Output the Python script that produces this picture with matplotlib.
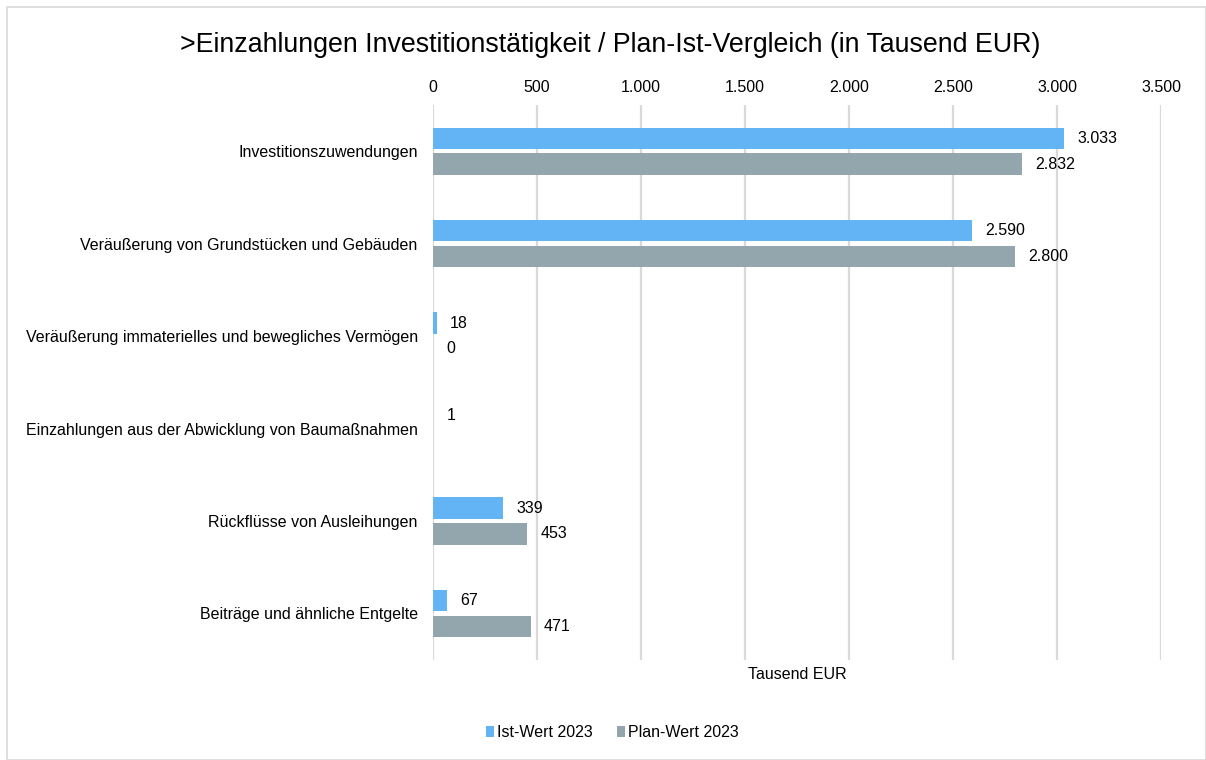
import matplotlib.pyplot as plt
from matplotlib.patches import Rectangle
import numpy as np

plt.rcParams["font.family"] = ["Liberation Sans", "DejaVu Sans"]

# Daten (Tausend EUR)
categories = [
    "Investitionszuwendungen",
    "Veräußerung von Grundstücken und Gebäuden",
    "Veräußerung immaterielles und bewegliches Vermögen",
    "Einzahlungen aus der Abwicklung von Baumaßnahmen",
    "Rückflüsse von Ausleihungen",
    "Beiträge und ähnliche Entgelte",
]
ist_2023 = [3033, 2590, 18, 1, 339, 67]
plan_2023 = [2832, 2800, 0, None, 453, 471]
x_ticks = [0, 500, 1000, 1500, 2000, 2500, 3000, 3500]

COLOR_IST = "#63b4f4"
COLOR_PLAN = "#93a5ad"
COLOR_GRID = "#d9d9d9"
COLOR_TEXT = "#000000"
FS = 11.5


def fmt_de(v):
    return f"{v:,.0f}".replace(",", ".")


fig = plt.figure(figsize=(12.06, 7.6), dpi=100)
ax = fig.add_axes([0.359, 0.132, 0.6037, 0.73])

# Rahmen um das Diagramm
fig.patches.append(Rectangle((7 / 1206, 0.0), 1 - 7 / 1206, 1 - 7 / 760,
                             transform=fig.transFigure, fill=False,
                             edgecolor="#d9d9d9", linewidth=1.2))

y = np.arange(len(categories))
offset = 0.14
height = 0.23

ist_vals = [v if v is not None else 0 for v in ist_2023]
plan_vals = [v if v is not None else 0 for v in plan_2023]
ax.barh(y - offset, ist_vals, height=height, color=COLOR_IST, label="Ist-Wert 2023", zorder=2)
ax.barh(y + offset, plan_vals, height=height, color=COLOR_PLAN, label="Plan-Wert 2023", zorder=2)

for i in range(len(categories)):
    if ist_2023[i] is not None:
        ax.annotate(fmt_de(ist_2023[i]), (ist_2023[i], y[i] - offset), xytext=(9.5, 0),
                    textcoords="offset points", va="center", ha="left", fontsize=FS,
                    color=COLOR_TEXT)
    if plan_2023[i] is not None:
        ax.annotate(fmt_de(plan_2023[i]), (plan_2023[i], y[i] + offset), xytext=(9.5, 0),
                    textcoords="offset points", va="center", ha="left", fontsize=FS,
                    color=COLOR_TEXT)

ax.set_xlim(0, 3500)
ax.set_ylim(len(categories) - 0.5, -0.5)
ax.set_yticks(y)
ax.set_yticklabels(categories, fontsize=FS)
ax.set_xticks(x_ticks)
ax.set_xticklabels([fmt_de(t) for t in x_ticks], fontsize=FS)
ax.xaxis.tick_top()
ax.tick_params(length=0, pad=7)
ax.tick_params(axis="y", pad=11)
for s in ax.spines.values():
    s.set_visible(False)
ax.grid(True, axis="x", color=COLOR_GRID, linewidth=1.6)
ax.set_axisbelow(True)

ax.set_xlabel("Tausend EUR", fontsize=FS)
ax.xaxis.set_label_position("bottom")
ax.xaxis.labelpad = 5

fig.suptitle(">Einzahlungen Investitionstätigkeit / Plan-Ist-Vergleich (in Tausend EUR)",
             x=0.506, y=0.941, va="center", fontsize=19.3)

fig.legend(loc="center", bbox_to_anchor=(0.508, 0.036), ncol=2, frameon=False,
           fontsize=FS, handlelength=0.5, handleheight=0.7, handletextpad=0.2,
           columnspacing=1.5)

fig.savefig("out.png", dpi=100)
